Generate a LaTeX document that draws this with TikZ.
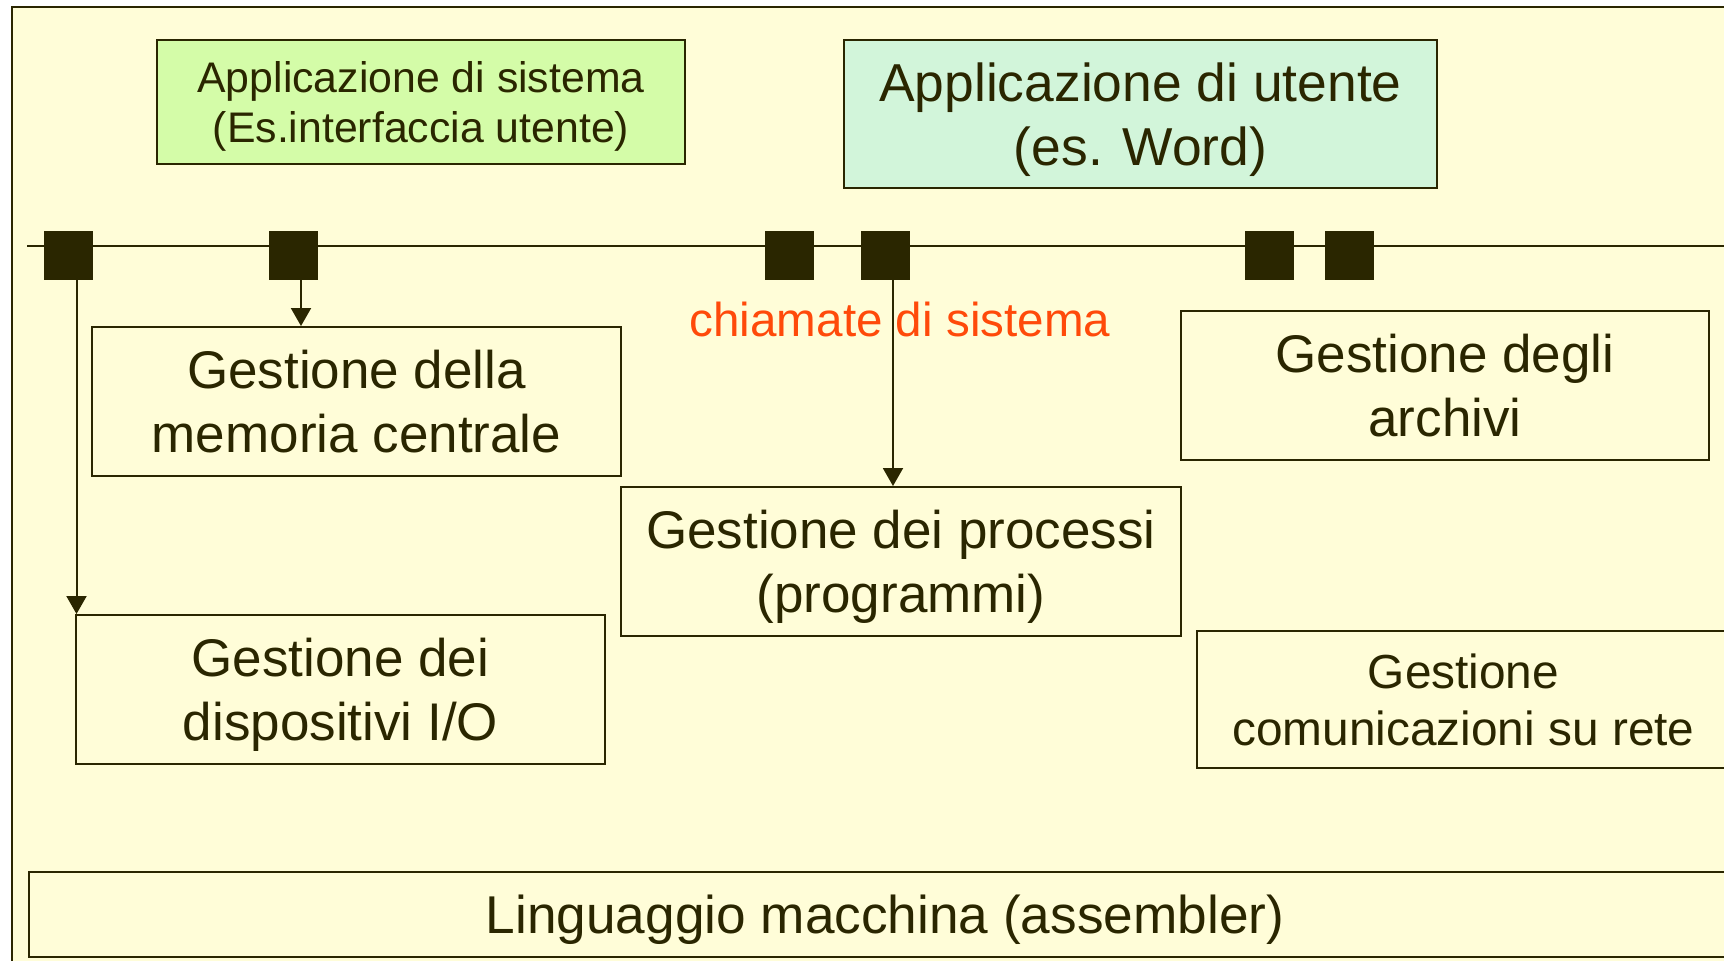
\documentclass[tikz,border=0pt]{standalone}
\usepackage{fontspec}
\setmainfont{Liberation Sans}
\usetikzlibrary{arrows.meta}
\definecolor{bgc}{HTML}{FFFDD8}
\definecolor{dk}{HTML}{2A2600}
\definecolor{sysg}{HTML}{D4FCA8}
\definecolor{usrg}{HTML}{D2F5DA}
\definecolor{callred}{HTML}{FF4A0A}
\tikzset{
  box/.style={draw=dk, line width=1pt, text=dk, align=center, inner sep=0pt, text depth=0pt},
  sq/.style={fill=dk, draw=none, minimum width=24.5pt, minimum height=24.5pt, inner sep=0pt},
  arr/.style={draw=dk, line width=1pt, -{Triangle[length=9pt,width=10pt]}},
  big/.style={font=\fontsize{26.5}{32}\selectfont},
}
\begin{document}
\begin{tikzpicture}[x=0.5pt,y=-0.5pt]
\useasboundingbox (0,0) rectangle (1724,960);
\fill[white] (0,0) rectangle (1724,960);
\draw[dk, line width=1pt, fill=bgc] (12,7) rectangle (1780,990);
% bus line
\coordinate (busL) at (27,246);
\coordinate (busR) at (1760,246);
\draw[dk, line width=1pt] (busL) -- (busR);
% squares
\node[sq] (s1) at (68.5,255.5) {};
\node[sq] (s2) at (293,255.5) {};
\node[sq] (s3) at (789,255.5) {};
\node[sq] (s4) at (885,255.5) {};
\node[sq] (s5) at (1269.5,255.5) {};
\node[sq] (s6) at (1349.5,255.5) {};
% boxes
\node[box, fill=sysg, minimum width=264pt, minimum height=62pt, font=\fontsize{21.4}{25.3}\selectfont] (sys) at (421,102) {Applicazione di sistema\\(Es.interfaccia utente)};
\node[box, fill=usrg, minimum width=296.5pt, minimum height=74pt, font=\fontsize{26.7}{32}\selectfont] (usr) at (1140.5,114) {Applicazione di utente\\(es. Word)};
\node[box, big, minimum width=264.5pt, minimum height=74.5pt] (mem) at (356.5,401.5) {Gestione della\\memoria centrale};
\node[box, big, minimum width=280pt, minimum height=74.5pt] (proc) at (901,561.5) {Gestione dei processi\\(programmi)};
\node[box, big, minimum width=264.5pt, minimum height=74.5pt] (io) at (340.5,689.5) {Gestione dei\\dispositivi I/O};
\node[box, big, minimum width=264pt, minimum height=74.5pt] (arch) at (1445,385.5) {Gestione degli\\archivi};
\node[box, minimum width=266.5pt, minimum height=68.5pt, font=\fontsize{23.9}{28.5}\selectfont] (net) at (1463.5,699.5) {Gestione\\comunicazioni su rete};
\node[box, minimum width=856pt, minimum height=42.5pt, font=\fontsize{26.6}{32}\selectfont] (asm) at (885,914.5) {Linguaggio macchina (assembler)};
% label
\node[text=callred, font=\fontsize{23.8}{28}\selectfont, inner sep=0pt] (calls) at (900,319) {chiamate di sistema};
% arrows
\draw[arr] ([xshift=4pt]s1.south) -- ([xshift=4pt]s1.south |- io.north);
\draw[arr] ([xshift=4pt]s2.south) -- ([xshift=4pt]s2.south |- mem.north);
\draw[arr] ([xshift=4pt]s4.south) -- ([xshift=4pt]s4.south |- proc.north);
\end{tikzpicture}
\end{document}
